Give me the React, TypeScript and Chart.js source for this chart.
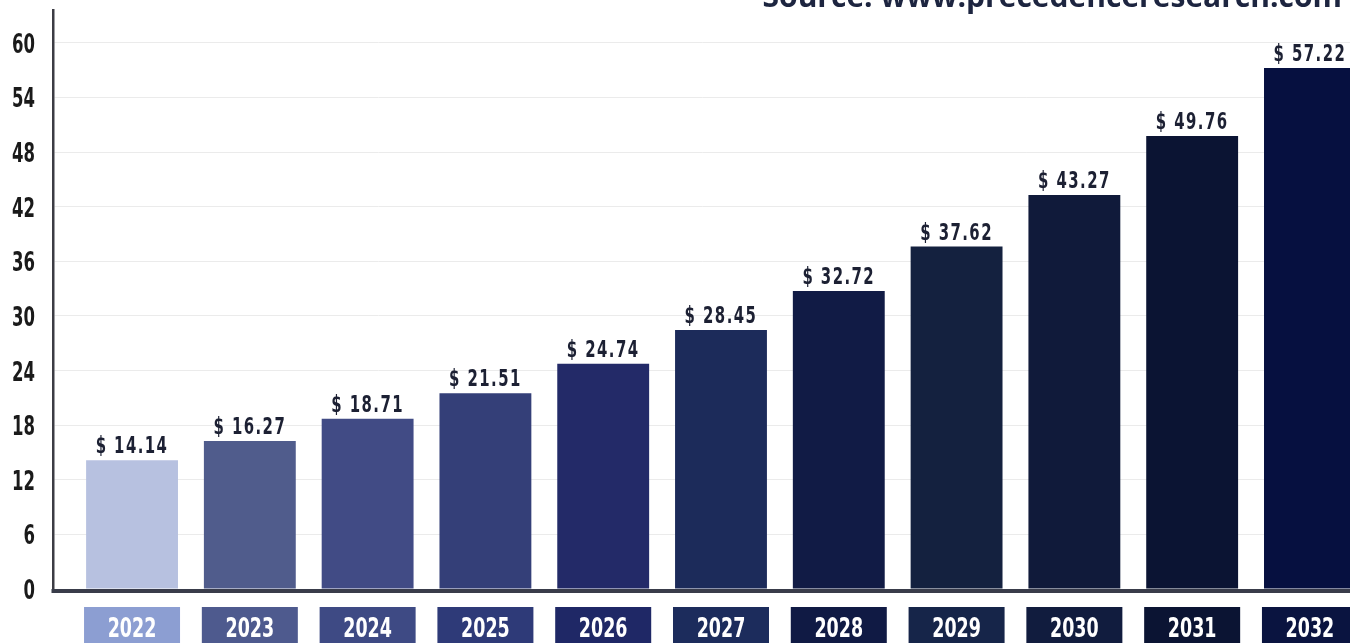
import React, { useEffect, useRef } from "react";
import { Chart, registerables } from "chart.js";

Chart.register(...registerables);

const years = ["2022", "2023", "2024", "2025", "2026", "2027", "2028", "2029", "2030", "2031", "2032"];
const marketValues = [14.14, 16.27, 18.71, 21.51, 24.74, 28.45, 32.72, 37.62, 43.27, 49.76, 57.22];
const barColors = [
  "#b7c1e0", "#505c8c", "#414b85", "#343f78", "#232a68", "#1c2b5a",
  "#111b45", "#14213f", "#101a3a", "#0b1433", "#061040",
];
const labelBoxColors = [
  "#8c9ed2", "#4e5a8e", "#3e4a84", "#2e3a78", "#1f2866", "#1c2c5c",
  "#101a44", "#162549", "#111c3e", "#0b1433", "#0a1440",
];
const yTickStep = 6;
const sourceText = "Source: www.precedenceresearch.com";

const COND = "'DejaVu Sans Condensed', 'DejaVu Sans', sans-serif";

function drawCondensed(
  ctx: CanvasRenderingContext2D,
  text: string,
  x: number,
  y: number,
  size: number,
  sx: number,
  align: CanvasTextAlign,
  color: string,
  spacing = 0
) {
  ctx.save();
  ctx.font = `bold ${size}px ${COND}`;
  ctx.textAlign = align;
  ctx.textBaseline = "alphabetic";
  ctx.fillStyle = color;
  (ctx as any).letterSpacing = `${spacing}px`;
  ctx.translate(x, y);
  ctx.scale(sx, 1);
  ctx.fillText(text, 0, 0);
  ctx.restore();
}

export default function App() {
  const canvasRef = useRef<HTMLCanvasElement | null>(null);

  useEffect(() => {
    document.body.style.margin = "0";
    document.body.style.overflow = "hidden";
    const canvas = canvasRef.current;
    if (!canvas) return;

    const decorPlugin = {
      id: "decor",
      afterDatasetsDraw(chart: any) {
        const ctx = chart.ctx as CanvasRenderingContext2D;
        const xs = chart.scales.x;
        const ys = chart.scales.y;
        const area = chart.chartArea;
        ctx.save();
        // bottom axis line
        ctx.strokeStyle = "#393c4a";
        ctx.lineWidth = 4;
        ctx.beginPath();
        ctx.moveTo(area.left - 1.5, area.bottom + 2);
        ctx.lineTo(chart.width, area.bottom + 2);
        ctx.stroke();
        ctx.restore();

        // y tick labels
        ys.ticks.forEach((t: any) => {
          const py = ys.getPixelForValue(t.value);
          drawCondensed(ctx, String(t.value), area.left - 18, py + 10, 27, 0.68, "right", "#1a1a1a");
        });

        // value labels
        marketValues.forEach((v, i) => {
          const cx = xs.getPixelForValue(i);
          const top = ys.getPixelForValue(v);
          drawCondensed(ctx, `$ ${v.toFixed(2)}`, cx, top - 7, 23, 0.72, "center", "#1c2033", 2);
        });

        // year label boxes
        years.forEach((y, i) => {
          const cx = xs.getPixelForValue(i);
          ctx.fillStyle = labelBoxColors[i];
          ctx.fillRect(cx - 48, area.bottom + 18, 96, 60);
          drawCondensed(ctx, y, cx, area.bottom + 48, 27, 0.72, "center", "#ffffff");
        });

        // source text (cut at top)
        ctx.save();
        ctx.fillStyle = "#1d2540";
        ctx.font = "bold 30px 'Open Sans', sans-serif";
        ctx.textAlign = "right";
        ctx.textBaseline = "alphabetic";
        ctx.fillText(sourceText, 1342, 7);
        ctx.restore();
      },
    };

    const chart = new Chart(canvas, {
      type: "bar",
      data: {
        datasets: [
          {
            data: marketValues.map((v, i) => ({ x: i, y: v })),
            backgroundColor: barColors,
            borderWidth: 0,
            barPercentage: 0.78,
            categoryPercentage: 1,
          },
        ],
      },
      options: {
        animation: false,
        responsive: false,
        layout: { padding: { top: 10, bottom: 54, left: 0, right: 0 } },
        plugins: { legend: { display: false }, tooltip: { enabled: false }, title: { display: false } },
        scales: {
          x: {
            type: "linear",
            display: false,
            offset: false,
            min: -0.671,
            max: 10.34,
            ticks: { stepSize: 1, includeBounds: false },
            afterBuildTicks(scale: any) {
              scale.ticks = years.map((_, i) => ({ value: i }));
            },
          },
          y: {
            min: 0,
            max: 63.6,
            afterFit(scale: any) {
              scale.width = 53;
              scale.paddingTop = 0;
              scale.paddingBottom = 0;
            },
            ticks: {
              display: false,
              stepSize: yTickStep,
              includeBounds: false,
            },
            grid: { color: "#ebebeb", lineWidth: 1, drawTicks: false },
            border: { color: "#3c3c44", width: 2.5 },
          },
        },
      },
      plugins: [decorPlugin],
    } as any);

    return () => chart.destroy();
  }, []);

  return <canvas ref={canvasRef} width={1350} height={643} style={{ display: "block" }} />;
}
